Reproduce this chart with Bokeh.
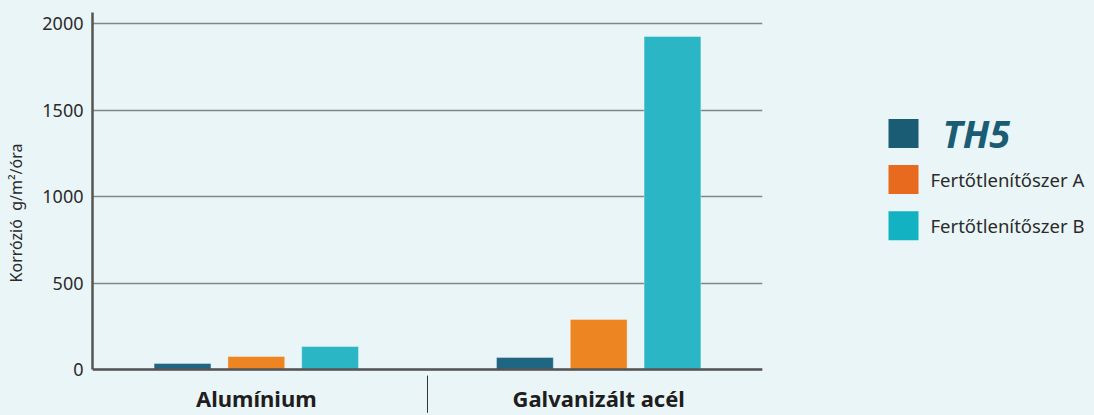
from bokeh.plotting import figure
from bokeh.models import FactorRange, FixedTicker, Range1d, Span
from bokeh.layouts import row
from bokeh.embed import file_html
from bokeh.resources import INLINE
from bokeh.core.properties import value

categories = ["Alumínium", "Galvanizált acél"]
series = ["TH5", "Fertőtlenítőszer A", "Fertőtlenítőszer B"]
th5 = [35, 70]
fert_a = [75, 290]
fert_b = [133, 1925]
y_ticks = [0, 500, 1000, 1500, 2000]
y_title = "Korrózió\u00a0\u00a0g/m²/óra"

bar_colors = ["#1F6682", "#EC8522", "#2BB6C5"]
legend_colors = ["#1B5C75", "#E86A1F", "#13B2C2"]
BG = "#EAF5F7"
FONT = "Noto Sans"
TXT = "#2b2b2b"

Y_TOP = 2063.6
Y_BOTTOM = -254
GROUP_PAD = 1.64

factors = [(c, s) for c in categories for s in series]
values = []
for i in range(len(categories)):
    values += [th5[i], fert_a[i], fert_b[i]]
colors = [bar_colors[j] for _ in categories for j in range(len(series))]

x_range = FactorRange(*factors, group_padding=GROUP_PAD, range_padding=0.72,
                      range_padding_units="absolute")

p = figure(x_range=x_range, y_range=Range1d(Y_BOTTOM, Y_TOP), width=770, height=413,
           output_backend="svg", toolbar_location=None,
           min_border_left=92, min_border_right=8, min_border_top=12,
           min_border_bottom=0, background_fill_color=BG,
           border_fill_color=BG, outline_line_color=None)

p.vbar(x=factors, top=values, width=0.77, fill_color=colors,
       line_color="white", line_alpha=0.35, line_width=1)

# y axis
p.yaxis.ticker = FixedTicker(ticks=y_ticks)
p.yaxis.bounds = (0, Y_TOP)
p.yaxis.axis_label = y_title
p.yaxis.axis_label_text_font = FONT
p.yaxis.axis_label_text_font_size = "16px"
p.yaxis.axis_label_text_font_style = "normal"
p.yaxis.axis_label_text_color = TXT
p.yaxis.axis_label_standoff = 12
p.yaxis.major_label_text_font = FONT
p.yaxis.major_label_text_font_size = "18px"
p.yaxis.major_label_text_color = TXT
p.yaxis.major_tick_out = 0
p.yaxis.major_tick_in = 0
p.yaxis.minor_tick_out = 0
p.yaxis.minor_tick_in = 0
p.yaxis.major_label_standoff = 9
p.yaxis.axis_line_color = "#555555"
p.yaxis.axis_line_width = 2.5

p.xaxis.visible = False

# grid
p.xgrid.grid_line_color = None
p.ygrid.grid_line_color = "#7f8789"
p.ygrid.grid_line_width = 1.5

# baseline
p.add_layout(Span(location=0, dimension="width", line_color="#555555", line_width=2.5))

# category labels
p.text(x=categories, y=[0] * len(categories), text=categories, y_offset=28,
       text_font=value(FONT), text_font_size="22px", text_font_style="bold",
       text_color="#1e1e1e", text_align="center", text_baseline="middle")

# divider between the groups
div_x = [(categories[0], series[-1], 0.5 + GROUP_PAD / 2)]
p.segment(x0=div_x, x1=div_x, y0=[-35], y1=[-250], line_color="#333333", line_width=1)

# legend panel
lg = figure(width=316, height=413, x_range=Range1d(0, 316),
            y_range=Range1d(6.07, -2.62), output_backend="svg",
            toolbar_location=None, background_fill_color=BG,
            border_fill_color=BG, outline_line_color=None,
            min_border=0)
lg.axis.visible = False
lg.grid.visible = False
idx = list(range(len(series)))
lg.rect(x=[133] * len(series), y=idx, width=30, height=29,
        width_units="screen", height_units="screen",
        fill_color=legend_colors, line_color=None)
lg.text(x=[172], y=[idx[0]], text=[series[0]], text_font=value(FONT),
        text_font_size="38px", text_font_style="bold italic",
        text_color=legend_colors[0], text_baseline="middle")
lg.text(x=[160] * 2, y=idx[1:], text=series[1:], text_font=value(FONT),
        text_font_size="18.5px", text_color=TXT, text_baseline="middle")

layout = row(p, lg, styles={"background-color": BG})
with open("out.html", "w") as f:
    f.write(file_html(layout, INLINE).replace("<body>", f'<body style="background:{BG}">'))
